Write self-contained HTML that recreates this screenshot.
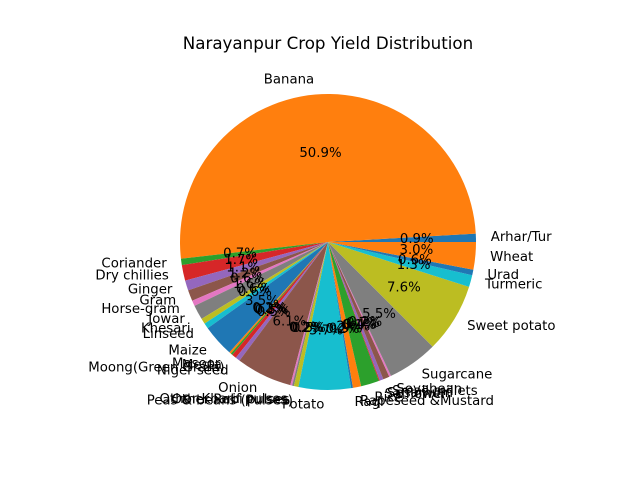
<!DOCTYPE html>
<html><head><meta charset="utf-8"><style>
body{margin:0;background:#fff;}
svg text{font-family:"DejaVu Sans","Liberation Sans",sans-serif;}
</style></head><body>
<svg id="chart" width="640" height="480" xmlns="http://www.w3.org/2000/svg">
<rect width="640" height="480" fill="#fff"/>
<text x="328" y="49" text-anchor="middle" font-size="16.7" fill="#000">Narayanpur Crop Yield Distribution</text>
<g id="slices"></g><g id="labels"></g>
</svg>
<script>
const crops = ["Arhar/Tur","Banana","Coriander","Dry chillies","Ginger","Gram","Horse-gram","Jowar","Khesari","Linseed","Maize","Masoor","Mesta","Moong(Green Gram)","Niger seed","Onion","Other Kharif pulses","Other Rabi pulses","Peas & beans (Pulses)","Potato","Ragi","Rapeseed &Mustard","Rice","Safflower","Sesamum","Small millets","Soyabean","Sugarcane","Sweet potato","Turmeric","Urad","Wheat"];
const shares = [0.9,50.9,0.7,1.7,1.1,1.2,0.6,1.6,0.6,0.6,3.5,0.2,0.2,0.5,0.5,6.1,0.2,0.2,0.5,5.7,0.2,0.9,2.0,0.1,0.4,0.7,0.2,5.5,7.6,1.3,0.6,3.0];
const palette = ["#1f77b4","#ff7f0e","#2ca02c","#d62728","#9467bd","#8c564b","#e377c2","#7f7f7f","#bcbd22","#17becf"];
const cx=328, cy=242, R=148;
const total = shares.reduce((a,b)=>a+b,0);
const sg=document.getElementById('slices'), lg=document.getElementById('labels');
const NS="http://www.w3.org/2000/svg";
function pt(angDeg,r){const a=angDeg*Math.PI/180;return [cx+r*Math.cos(a), cy-r*Math.sin(a)];}
let start=0;
shares.forEach((v,i)=>{
  const sweep=v/total*360, end=start+sweep;
  const [x1,y1]=pt(start,R),[x2,y2]=pt(end,R);
  const p=document.createElementNS(NS,'path');
  p.setAttribute('d',`M${cx},${cy} L${x1},${y1} A${R},${R} 0 ${sweep>180?1:0} 0 ${x2},${y2} Z`);
  p.setAttribute('fill',palette[i%10]);
  
  
  sg.appendChild(p);
  const mid=start+sweep/2;
  const [lx,ly]=pt(mid,R*1.1);
  const t=document.createElementNS(NS,'text');
  t.setAttribute('x',lx);t.setAttribute('y',ly);
  t.setAttribute('font-size','13.3');t.setAttribute('dominant-baseline','central');
  t.setAttribute('text-anchor',Math.cos(mid*Math.PI/180)>0?'start':'end');
  t.textContent=crops[i];
  
  
  lg.appendChild(t);
  const [px,py]=pt(mid,R*0.6);
  const q=document.createElementNS(NS,'text');
  q.setAttribute('x',px);q.setAttribute('y',py);
  q.setAttribute('font-size','13.3');q.setAttribute('dominant-baseline','central');
  q.setAttribute('text-anchor','middle');
  q.textContent=(v/total*100).toFixed(1)+'%';
  
  
  lg.appendChild(q);
  start=end;
});
</script>
</body></html>
